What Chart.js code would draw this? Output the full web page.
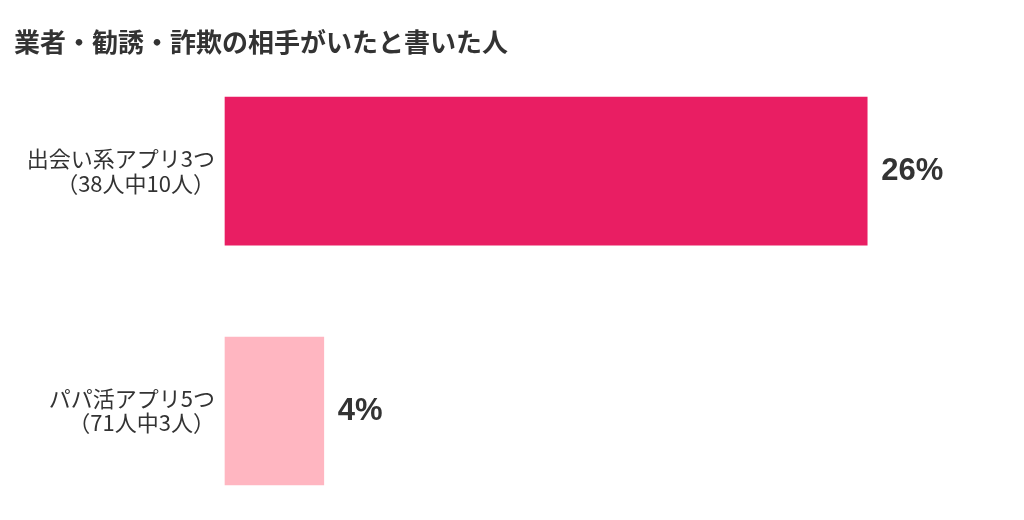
<!DOCTYPE html>
<html>
<head>
<meta charset="utf-8">
<script src="https://cdn.jsdelivr.net/npm/chart.js@4/dist/chart.umd.min.js"></script>
<style>
  html, body { margin: 0; padding: 0; background: #fff; }
  #wrap { width: 1024px; height: 520px; position: relative; }
</style>
</head>
<body>
<div id="wrap"><canvas id="apps" width="1024" height="520"></canvas></div>
<script>
// data
const titleText = "業者・勧誘・詐欺の相手がいたと書いた人";
const appLabels = [
  ["出会い系アプリ3つ", "（38人中10人）"],
  ["パパ活アプリ5つ", "（71人中3人）"],
];
const shares = [26, 4];
const barColors = ["#E91E63", "#FFB6C1"];

Chart.defaults.font.family = "'Noto Sans CJK JP', 'Noto Sans', sans-serif";
Chart.defaults.color = "#333";

// percent labels next to each bar
const valueLabels = {
  id: "valueLabels",
  afterDatasetsDraw(chart) {
    const ctx = chart.ctx;
    const meta = chart.getDatasetMeta(0);
    ctx.save();
    ctx.font = "bold 31px 'Liberation Sans', Arial, sans-serif";
    ctx.fillStyle = "#333";
    ctx.textAlign = "left";
    ctx.textBaseline = "middle";
    meta.data.forEach((bar, i) => {
      ctx.fillText(shares[i] + "%", bar.x + 14, bar.y);
    });
    ctx.restore();
  },
};

const appsctx = document.getElementById("apps").getContext("2d");
new Chart(appsctx, {
  type: "bar",
  data: {
    labels: appLabels,
    datasets: [
      {
        data: shares,
        backgroundColor: barColors,
        barThickness: 148,
        clip: false,
      },
    ],
  },
  options: {
    indexAxis: "y",
    responsive: false,
    animation: false,
    devicePixelRatio: 1,
    layout: { padding: { left: 14, right: 58, top: 0, bottom: 109 } },
    plugins: {
      legend: { display: false },
      tooltip: { enabled: false },
      title: {
        display: true,
        text: titleText,
        align: "start",
        color: "#333",
        font: { size: 26, weight: "bold" },
        padding: { top: 27, bottom: 113 },
      },
    },
    scales: {
      x: {
        display: false,
        min: 0,
        max: 30,
      },
      y: {
        offset: false,
        grid: { display: false },
        border: { display: false },
        ticks: {
          color: "#333",
          font: { size: 22, lineHeight: 1.1 },
          padding: 2,
          autoSkip: false,
        },
        afterFit(axis) {
          axis.width = 211;
        },
      },
    },
  },
  plugins: [valueLabels],
});
</script>
</body>
</html>
